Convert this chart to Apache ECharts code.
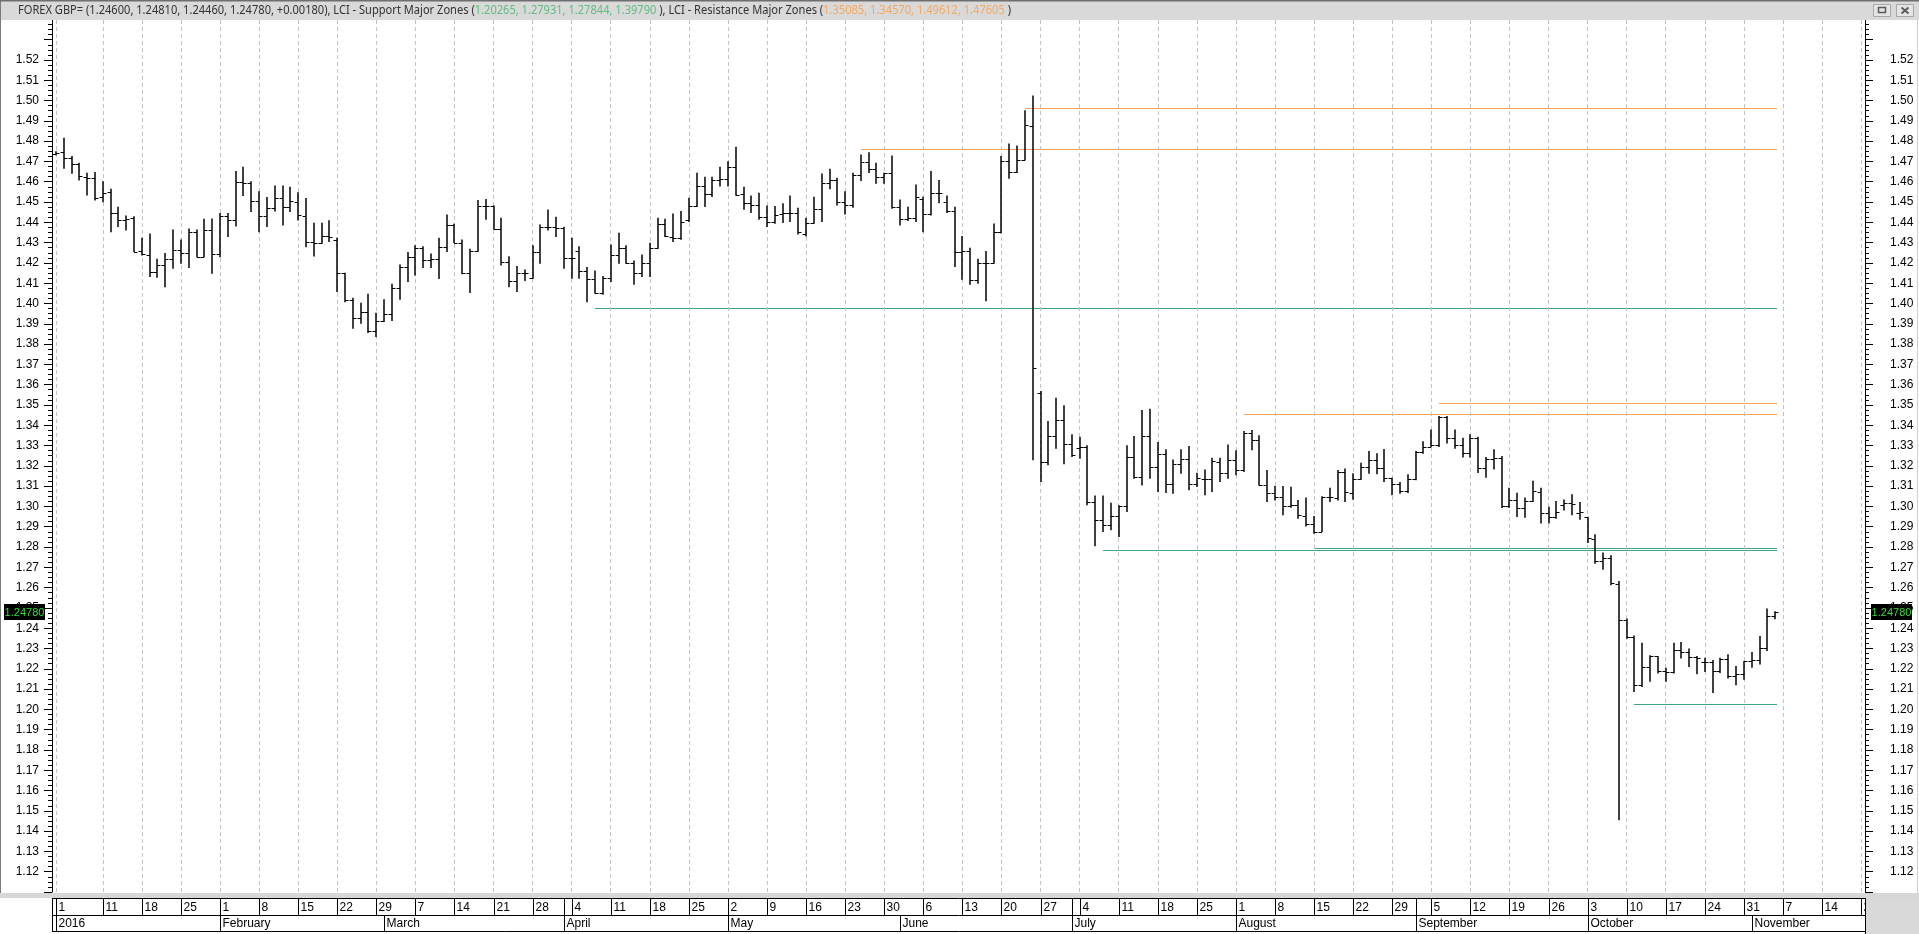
<!DOCTYPE html>
<html><head><meta charset="utf-8">
<script src="https://cdn.jsdelivr.net/npm/echarts@6/dist/echarts.min.js"></script>
<style>html,body{margin:0;padding:0;background:#fff;overflow:hidden}#c{width:1919px;height:934px}</style>
</head><body><div id="c"></div>
<script>
// ---------- DATA ----------
const START_DATE = '2016-01-01';
const N_CATS = 232; // weekdays shown on the axis (Jan 1 .. Nov 21 2016)

const opens = [1.4737,1.4748,1.4715,1.4686,1.4625,1.4617,1.4527,1.4551,1.4444,1.4412,
1.4420,1.4261,1.4239,1.4154,1.4190,1.4218,1.4264,1.4247,1.4354,1.4231,
1.4362,1.4244,1.4431,1.4412,1.4600,1.4592,1.4505,1.4431,1.4472,1.4522,
1.4477,1.4502,1.4431,1.4305,1.4297,1.4333,1.4313,1.4149,1.4018,1.3927,
1.3960,1.3866,1.3916,1.3947,1.4075,1.4182,1.4231,1.4272,1.4215,1.4220,
1.4277,1.4387,1.4300,1.4152,1.4259,1.4481,1.4481,1.4367,1.4206,1.4113,
1.4152,1.4128,1.4252,1.4379,1.4376,1.4371,1.4223,1.4261,1.4160,1.4119,
1.4054,1.4124,1.4239,1.4272,1.4202,1.4152,1.4198,1.4272,1.4390,1.4330,
1.4321,1.4412,1.4481,1.4581,1.4538,1.4609,1.4612,1.4671,1.4538,1.4494,
1.4484,1.4428,1.4404,1.4441,1.4445,1.4445,1.4343,1.4395,1.4464,1.4596,
1.4609,1.4502,1.4484,1.4633,1.4699,1.4663,1.4622,1.4642,1.4478,1.4415,
1.4420,1.4515,1.4441,1.4543,1.4502,1.4458,1.4256,1.4261,1.4116,1.4202,
1.4202,1.4351,1.4702,1.4647,1.4707,1.4876,1.3561,1.3221,1.3345,1.3427,
1.3308,1.3287,1.3292,1.3024,1.2934,1.2909,1.2954,1.3000,1.3246,1.3144,
1.3345,1.3193,1.3259,1.3111,1.3208,1.3233,1.3111,1.3136,1.3134,1.3221,
1.3164,1.3230,1.3179,1.3364,1.3325,1.3106,1.3065,1.3046,1.3003,1.3008,
1.2954,1.2914,1.2876,1.3046,1.3041,1.3172,1.3065,1.3134,1.3193,1.3230,
1.3188,1.3139,1.3111,1.3078,1.3134,1.3266,1.3295,1.3304,1.3440,1.3336,
1.3304,1.3262,1.3336,1.3188,1.3233,1.3241,1.3000,1.3032,1.2991,1.3029,
1.3073,1.2970,1.2950,1.3008,1.3016,1.2967,1.2947,1.2839,1.2729,1.2745,
1.2619,1.2438,1.2359,1.2121,1.2211,1.2261,1.2187,1.2182,1.2294,1.2285,
1.2257,1.2231,1.2231,1.2187,1.2247,1.2165,1.2174,1.2236,1.2241,1.2302,
1.2460];
const highs = [1.4748,1.4814,1.4724,1.4691,1.4642,1.4645,1.4600,1.4563,1.4474,1.4431,
1.4428,1.4321,1.4343,1.4218,1.4247,1.4362,1.4313,1.4367,1.4362,1.4415,
1.4417,1.4444,1.4444,1.4650,1.4671,1.4600,1.4551,1.4522,1.4579,1.4579,
1.4573,1.4546,1.4518,1.4395,1.4395,1.4408,1.4321,1.4149,1.4026,1.4001,
1.4045,1.3952,1.4018,1.4095,1.4190,1.4251,1.4284,1.4280,1.4244,1.4321,
1.4436,1.4390,1.4313,1.4267,1.4507,1.4513,1.4481,1.4420,1.4231,1.4182,
1.4165,1.4284,1.4387,1.4461,1.4425,1.4376,1.4321,1.4280,1.4177,1.4160,
1.4133,1.4288,1.4346,1.4284,1.4210,1.4239,1.4297,1.4420,1.4415,1.4441,
1.4453,1.4519,1.4642,1.4622,1.4622,1.4671,1.4699,1.4770,1.4573,1.4530,
1.4543,1.4481,1.4478,1.4491,1.4530,1.4469,1.4420,1.4523,1.4638,1.4661,
1.4617,1.4551,1.4642,1.4732,1.4743,1.4691,1.4642,1.4727,1.4510,1.4474,
1.4584,1.4523,1.4650,1.4606,1.4530,1.4474,1.4330,1.4272,1.4218,1.4256,
1.4392,1.4724,1.4786,1.4776,1.4950,1.5023,1.3566,1.3418,1.3533,1.3496,
1.3353,1.3341,1.3299,1.3052,1.3052,1.3016,1.3003,1.3299,1.3345,1.3473,
1.3479,1.3315,1.3279,1.3229,1.3279,1.3295,1.3164,1.3180,1.3238,1.3238,
1.3303,1.3275,1.3369,1.3374,1.3348,1.3177,1.3098,1.3098,1.3095,1.3029,
1.3041,1.2950,1.3048,1.3090,1.3177,1.3184,1.3161,1.3213,1.3271,1.3259,
1.3281,1.3139,1.3118,1.3156,1.3271,1.3319,1.3377,1.3443,1.3443,1.3377,
1.3336,1.3353,1.3341,1.3241,1.3279,1.3246,1.3090,1.3065,1.3041,1.3124,
1.3090,1.2996,1.3024,1.3032,1.3057,1.3019,1.2947,1.2860,1.2770,1.2757,
1.2630,1.2445,1.2362,1.2326,1.2264,1.2261,1.2203,1.2326,1.2330,1.2297,
1.2261,1.2252,1.2241,1.2252,1.2269,1.2211,1.2236,1.2280,1.2359,1.2494,
1.2481];
const lows = [1.4733,1.4666,1.4642,1.4609,1.4535,1.4510,1.4502,1.4354,1.4379,1.4362,
1.4256,1.4239,1.4133,1.4129,1.4083,1.4174,1.4198,1.4177,1.4231,1.4231,
1.4149,1.4231,1.4330,1.4382,1.4532,1.4453,1.4354,1.4379,1.4456,1.4387,
1.4453,1.4412,1.4280,1.4234,1.4297,1.4305,1.4059,1.4009,1.3878,1.3903,
1.3857,1.3837,1.3911,1.3916,1.4021,1.4108,1.4141,1.4178,1.4178,1.4123,
1.4256,1.4300,1.4146,1.4054,1.4256,1.4415,1.4366,1.4190,1.4083,1.4059,
1.4113,1.4124,1.4198,1.4362,1.4330,1.4174,1.4124,1.4124,1.4009,1.4050,
1.4045,1.4108,1.4198,1.4198,1.4095,1.4133,1.4133,1.4272,1.4330,1.4305,
1.4317,1.4404,1.4478,1.4478,1.4527,1.4579,1.4579,1.4533,1.4464,1.4448,
1.4415,1.4379,1.4395,1.4399,1.4404,1.4343,1.4333,1.4395,1.4404,1.4566,
1.4486,1.4441,1.4474,1.4606,1.4645,1.4592,1.4592,1.4469,1.4387,1.4409,
1.4404,1.4354,1.4436,1.4497,1.4448,1.4182,1.4120,1.4095,1.4100,1.4014,
1.4198,1.4349,1.4617,1.4645,1.4707,1.3230,1.3123,1.3205,1.3287,1.3210,
1.3246,1.3238,1.3008,1.2806,1.2877,1.2885,1.2852,1.2975,1.3139,1.3106,
1.3139,1.3073,1.3069,1.3065,1.3164,1.3082,1.3098,1.3057,1.3073,1.3123,
1.3139,1.3156,1.3172,1.3279,1.3106,1.3024,1.3032,1.2959,1.2996,1.2942,
1.2904,1.2868,1.2876,1.3024,1.3032,1.3024,1.3036,1.3134,1.3164,1.3161,
1.3123,1.3057,1.3065,1.3069,1.3131,1.3262,1.3295,1.3295,1.3312,1.3287,
1.3243,1.3243,1.3167,1.3144,1.3184,1.2995,1.2995,1.2950,1.2947,1.3024,
1.2918,1.2918,1.2942,1.2983,1.2959,1.2937,1.2822,1.2720,1.2691,1.2614,
1.1456,1.2351,1.2088,1.2113,1.2138,1.2179,1.2138,1.2179,1.2253,1.2211,
1.2175,1.2187,1.2083,1.2182,1.2154,1.2121,1.2149,1.2208,1.2224,1.2290,
1.2446];
const closes = [1.4743,1.4715,1.4686,1.4628,1.4617,1.4518,1.4543,1.4444,1.4412,1.4415,
1.4256,1.4244,1.4154,1.4190,1.4218,1.4264,1.4247,1.4354,1.4231,1.4362,
1.4244,1.4431,1.4412,1.4600,1.4592,1.4505,1.4431,1.4472,1.4522,1.4477,
1.4507,1.4436,1.4305,1.4297,1.4333,1.4326,1.4149,1.4018,1.3927,1.3960,
1.3866,1.3916,1.3947,1.4075,1.4182,1.4231,1.4272,1.4215,1.4220,1.4277,
1.4387,1.4300,1.4152,1.4259,1.4481,1.4481,1.4367,1.4206,1.4113,1.4152,
1.4152,1.4252,1.4379,1.4376,1.4371,1.4223,1.4223,1.4160,1.4119,1.4054,
1.4124,1.4239,1.4272,1.4202,1.4152,1.4198,1.4272,1.4390,1.4333,1.4321,
1.4400,1.4481,1.4581,1.4538,1.4609,1.4612,1.4671,1.4533,1.4494,1.4484,
1.4425,1.4404,1.4436,1.4445,1.4445,1.4354,1.4395,1.4464,1.4596,1.4609,
1.4502,1.4484,1.4633,1.4699,1.4663,1.4622,1.4642,1.4478,1.4415,1.4420,
1.4523,1.4441,1.4543,1.4543,1.4458,1.4256,1.4261,1.4116,1.4202,1.4202,
1.4351,1.4702,1.4647,1.4707,1.4880,1.3681,1.3221,1.3345,1.3427,1.3308,
1.3254,1.3292,1.3024,1.2934,1.2909,1.2954,1.3000,1.3246,1.3144,1.3345,
1.3193,1.3259,1.3111,1.3208,1.3233,1.3111,1.3139,1.3134,1.3225,1.3164,
1.3230,1.3179,1.3361,1.3328,1.3106,1.3065,1.3046,1.3003,1.3008,1.2959,
1.2914,1.2876,1.3046,1.3046,1.3172,1.3073,1.3134,1.3193,1.3230,1.3190,
1.3139,1.3111,1.3078,1.3136,1.3266,1.3295,1.3304,1.3440,1.3336,1.3304,
1.3262,1.3336,1.3188,1.3233,1.3241,1.3000,1.3032,1.2991,1.3029,1.3078,
1.2970,1.2950,1.2975,1.3016,1.3013,1.2972,1.2844,1.2729,1.2745,1.2622,
1.2438,1.2359,1.2121,1.2211,1.2261,1.2187,1.2182,1.2294,1.2285,1.2257,
1.2252,1.2231,1.2187,1.2247,1.2165,1.2174,1.2236,1.2241,1.2302,1.2461,
1.2478];

const supportLevels = [1.20265, 1.27931, 1.27844, 1.39790];
const supportStartIdx = [202, 161, 134, 69];
const resistanceLevels = [1.35085, 1.34570, 1.49612, 1.47605];
const resistanceStartIdx = [177, 152, 124, 103];

const monthLabels = ['2016','February','March','April','May','June','July','August','September','October','November'];
const yMin = 1.11, yMax = 1.54, yStep = 0.01;
const yLabelLow = 1.12, yLabelHigh = 1.52;
const lastPrice = 1.24780;
const quoteValues = ['1.24600','1.24810','1.24460','1.24780','+0.00180'];
const supportText = ['1.20265','1.27931','1.27844','1.39790'];
const resistanceText = ['1.35085','1.34570','1.49612','1.47605'];

// ---------- CATEGORIES (all weekdays) ----------
const dates = [];
{
  const d = new Date(START_DATE + 'T00:00:00Z');
  while (dates.length < N_CATS) {
    const wd = d.getUTCDay();
    if (wd > 0 && wd < 6) dates.push(new Date(d.getTime()));
    d.setUTCDate(d.getUTCDate() + 1);
  }
}
const cats = dates.map(x => x.toISOString().slice(0, 10));
const lastIdx = opens.length - 1;

const dayCells = [0];
dates.forEach((d, i) => { if (i > 1 && d.getUTCDay() === 1) dayCells.push(i); });
const monthStarts = [];
dates.forEach((d, i) => { if (i === 0 || d.getUTCMonth() !== dates[i - 1].getUTCMonth()) monthStarts.push(i); });
const extraDayBounds = monthStarts.filter(i => i > 0 && (dates[i].getUTCDay() === 4 || dates[i].getUTCDay() === 5));

const GREEN = '#3fa57f', ORANGE = '#f2a45a';
const chart = echarts.init(document.getElementById('c'), null, {renderer: 'canvas'});

function renderOHLC(params, api) {
  const i = api.value(0);
  const pO = api.coord([i, api.value(1)]);
  const pH = api.coord([i, api.value(2)]);
  const pL = api.coord([i, api.value(3)]);
  const pC = api.coord([i, api.value(4)]);
  const x = Math.round(pH[0]);
  const st = {stroke: '#000', lineWidth: 1.5};
  return {type: 'group', children: [
    {type: 'line', shape: {x1: x, y1: pH[1] - 0.5, x2: x, y2: pL[1] + 0.5}, style: st},
    {type: 'line', shape: {x1: x - 3.5, y1: Math.round(pO[1]) + 0.5, x2: x, y2: Math.round(pO[1]) + 0.5}, style: {stroke: '#000', lineWidth: 1}},
    {type: 'line', shape: {x1: x, y1: Math.round(pC[1]) + 0.5, x2: x + 3.5, y2: Math.round(pC[1]) + 0.5}, style: {stroke: '#000', lineWidth: 1}}
  ]};
}

const yAxisCommon = {
  type: 'value', min: yMin, max: yMax, interval: yStep,
  axisLine: {show: true, lineStyle: {color: '#000', width: 1}},
  axisTick: {show: true, length: 8, lineStyle: {color: '#000'}},
  minorTick: {show: true, splitNumber: 4, length: 4, lineStyle: {color: '#000'}},
  splitLine: {show: false},
  minorSplitLine: {show: false},
};
const labelFmt = v => (v > yLabelLow - 0.005 && v < yLabelHigh + 0.005) ? v.toFixed(2) : '';

const series = [
  {
    type: 'line', name: 'grid', data: [], silent: true, animation: false, z: 1,
    markLine: {
      silent: true, symbol: ['none', 'none'], label: {show: false}, animation: false,
      lineStyle: {color: '#c2c2c2', width: 1, type: [4, 3]},
      emphasis: {disabled: true},
      data: dayCells.map(i => ({xAxis: cats[i]}))
    }
  },
  {
    type: 'custom', name: 'GBP=', renderItem: renderOHLC, z: 5, animation: false, silent: true,
    encode: {x: 0, y: [1, 2, 3, 4]},
    data: opens.map((o, i) => [i, o, highs[i], lows[i], closes[i]])
  }
];

chart.setOption({
  animation: false,
  backgroundColor: '#ffffff',
  grid: {left: 52, right: 54, top: 19.4, bottom: 42, containLabel: false},
  xAxis: {type: 'category', data: cats, boundaryGap: true,
    axisLine: {show: false}, axisTick: {show: false}, axisLabel: {show: false}, splitLine: {show: false}},
  yAxis: [
    Object.assign({}, yAxisCommon, {position: 'left',
      axisLabel: {color: '#000', fontFamily: 'Liberation Sans', fontSize: 12, margin: 13, formatter: labelFmt}}),
    Object.assign({}, yAxisCommon, {position: 'right',
      axisLabel: {color: '#000', fontFamily: 'Liberation Sans', fontSize: 12, margin: 25, align: 'left', formatter: labelFmt}})
  ],
  series: series
});

// ---------- DECORATION (zones, header, date band, price tags) ----------
function buildGraphics() {
  const W = 1919;
  const px = i => chart.convertToPixel({xAxisIndex: 0}, cats[i]);
  const py = v => chart.convertToPixel({yAxisIndex: 0}, v);
  const g = [];
  const Z = 100;

  const zone = (lv, start, color) => {
    const x0 = Math.round(px(start)), x1 = Math.round(px(lastIdx)) + 2, y = Math.round(py(lv));
    g.push({type: 'rect', shape: {x: x0, y: y, width: x1 - x0, height: 1}, style: {fill: color}, z: 3, silent: true});
  };
  supportLevels.forEach((lv, k) => zone(lv, supportStartIdx[k], GREEN));
  resistanceLevels.forEach((lv, k) => zone(lv, resistanceStartIdx[k], ORANGE));

  g.push({type: 'rect', shape: {x: 0, y: 0, width: W, height: 20}, style: {fill: '#d9d9d9'}, z: Z});
  g.push({type: 'rect', shape: {x: 0, y: 0, width: W, height: 1.5}, style: {fill: '#6f6f6f'}, z: Z + 1});
  const txt = 'FOREX GBP= (' + quoteValues.join(', ') + '), LCI - Support Major Zones (' + supportText.join(', ') +
    ' ), LCI - Resistance Major Zones (' + resistanceText.join(', ') + ' )';
  const font = '12px "Noto Sans"';
  const ctx = document.createElement('canvas').getContext('2d');
  ctx.font = font;
  const tw = ctx.measureText(txt).width;
  const sx = 993 / tw;
  g.push({type: 'text', x: 18, y: 10.5, scaleX: sx, z: Z + 2, style: {
    text: '{a|FOREX GBP= (' + quoteValues.join(', ') + '), LCI - Support Major Zones (}{g|' + supportText.join(', ') +
      ' }{a|), LCI - Resistance Major Zones (}{o|' + resistanceText.join(', ') + ' }{a|)}',
    font: font, verticalAlign: 'middle',
    rich: {a: {fill: '#333333', font: font}, g: {fill: '#62bd84', font: font}, o: {fill: '#f5a962', font: font}}
  }});
  g.push({type: 'rect', shape: {x: 1873.5, y: 4.5, width: 17, height: 12}, style: {fill: '#e4e4e4', stroke: '#a8a8a8'}, z: Z + 2});
  g.push({type: 'rect', shape: {x: 1878.5, y: 7.5, width: 7, height: 5}, style: {fill: 'none', stroke: '#5a5a5a', lineWidth: 1.5}, z: Z + 3});
  g.push({type: 'rect', shape: {x: 1896.5, y: 4.5, width: 17, height: 12}, style: {fill: '#e4e4e4', stroke: '#a8a8a8'}, z: Z + 2});
  g.push({type: 'line', shape: {x1: 1901.5, y1: 7.5, x2: 1908.5, y2: 13.5}, style: {stroke: '#5a5a5a', lineWidth: 1.8}, z: Z + 3});
  g.push({type: 'line', shape: {x1: 1908.5, y1: 7.5, x2: 1901.5, y2: 13.5}, style: {stroke: '#5a5a5a', lineWidth: 1.8}, z: Z + 3});
  g.push({type: 'rect', shape: {x: 0, y: 0, width: 1, height: 934}, style: {fill: '#7a7a7a'}, z: Z});
  g.push({type: 'rect', shape: {x: 1917, y: 20, width: 1, height: 873}, style: {fill: '#d0d0d0'}, z: Z});

  const L = 52, R = 1865;
  const yTop = 898.5, yMid = 915.5, yBot = 931.5;
  g.push({type: 'rect', shape: {x: 0, y: 893, width: W, height: 5}, style: {fill: '#d7d7d7'}, z: Z});
  const line = (x1, y1, x2, y2) => g.push({type: 'line', shape: {x1, y1, x2, y2}, style: {stroke: '#000', lineWidth: 1}, z: Z});
  line(L, yTop, R, yTop); line(L, yMid, R, yMid); line(L, yBot, R, yBot);
  line(L + 0.5, yTop, L + 0.5, yBot);
  const lf = '12px "Liberation Sans"';
  dayCells.forEach(i => {
    const x = Math.round(px(i)) + 0.5;
    line(x, yTop, x, yMid);
    g.push({type: 'text', x: x + 2, y: (yTop + yMid) / 2 + 0.5, z: Z, style: {text: String(dates[i].getUTCDate()), font: lf, fill: '#000', verticalAlign: 'middle'}});
  });
  extraDayBounds.forEach(i => { const x = Math.round(px(i)) + 0.5; line(x, yTop, x, yMid); });
  monthStarts.forEach((i, k) => {
    const x = Math.round(px(i)) + 0.5;
    line(x, yMid, x, yBot);
    g.push({type: 'text', x: x + 2, y: (yMid + yBot) / 2 + 0.5, z: Z, style: {text: monthLabels[k], font: lf, fill: '#000', verticalAlign: 'middle'}});
  });
  g.push({type: 'rect', shape: {x: R, y: 898, width: W - R, height: 36}, style: {fill: '#d9d9d9'}, z: Z + 5});
  g.push({type: 'line', shape: {x1: R + 0.5, y1: 898, x2: R + 0.5, y2: 934}, style: {stroke: '#000', lineWidth: 1}, z: Z + 6});
  g.push({type: 'rect', shape: {x: 0, y: 898, width: L, height: 36}, style: {fill: '#fff'}, z: Z + 5});

  const pyLast = Math.round(py(lastPrice));
  [[4, 41], [1871, 41]].forEach(([x, w]) => {
    g.push({type: 'rect', shape: {x: x, y: pyLast - 8, width: w, height: 16}, style: {fill: '#000'}, z: Z + 10});
    g.push({type: 'text', x: x + w / 2, y: pyLast + 0.5, z: Z + 11, style: {text: lastPrice.toFixed(5), font: '11px "Liberation Sans"', fill: '#35d835', align: 'center', verticalAlign: 'middle'}});
  });
  return g;
}
chart.setOption({graphic: {elements: buildGraphics()}});
</script>
</body></html>
